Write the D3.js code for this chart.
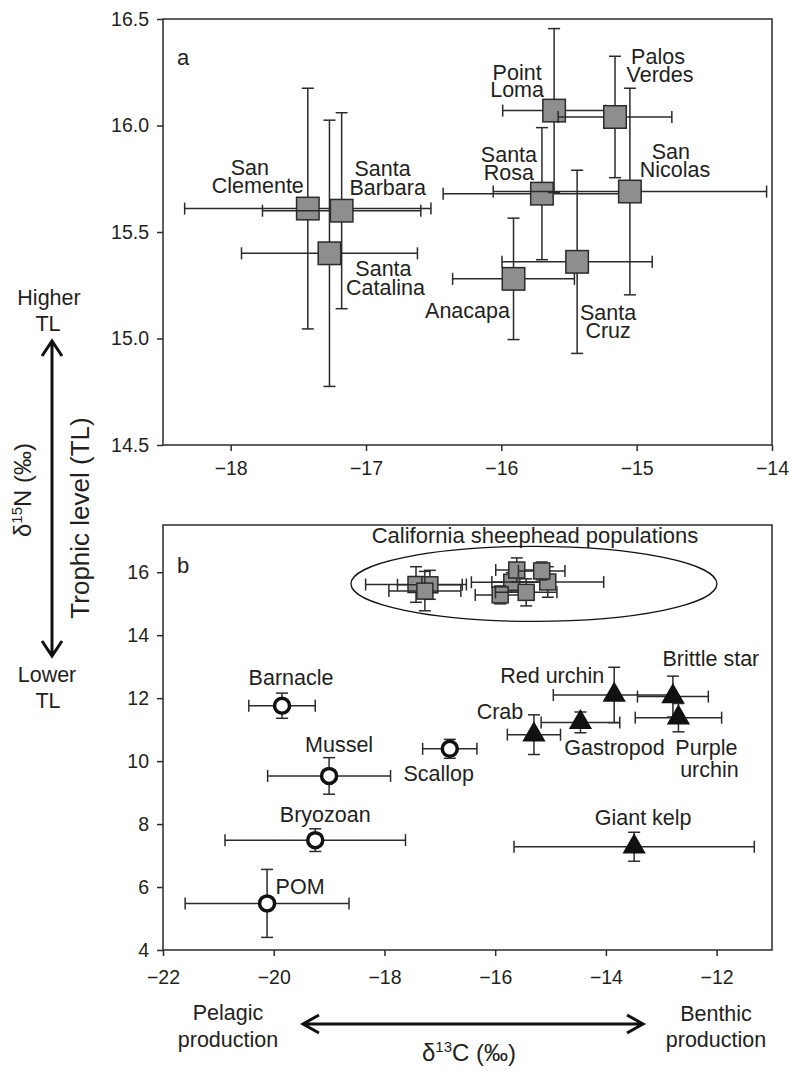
<!DOCTYPE html>
<html>
<head>
<meta charset="utf-8">
<script src="https://cdn.jsdelivr.net/npm/d3@7"></script>
<style>
  body { margin: 0; background: #fff; }
  svg text { font-family: "Liberation Sans", Arial, sans-serif; fill: #231f20; }
</style>
</head>
<body>
<script>
// sheephead populations: mean d13C, d15N and error (panel a, and the cluster in panel b)
const sites = ["San Clemente", "Santa Barbara", "Santa Catalina", "Santa Rosa", "San Nicolas",
               "Point Loma", "Palos Verdes", "Anacapa", "Santa Cruz"];
const siteC    = [-17.43, -17.18, -17.27, -15.70, -15.05, -15.61, -15.16, -15.91, -15.44];
const siteCErr = [0.91, 0.585, 0.65, 0.73, 1.01, 0.38, 0.42, 0.45, 0.555];
const siteN    = [15.61, 15.60, 15.40, 15.68, 15.69, 16.07, 16.04, 15.28, 15.36];
const siteNErr = [0.565, 0.46, 0.625, 0.31, 0.485, 0.385, 0.285, 0.285, 0.43];

// prey / primary producers (panel b)
const taxa     = ["POM", "Bryozoan", "Mussel", "Barnacle", "Scallop",
                  "Crab", "Gastropod", "Red urchin", "Brittle star", "Purple urchin", "Giant kelp"];
const taxaType = ["pelagic", "pelagic", "pelagic", "pelagic", "pelagic",
                  "benthic", "benthic", "benthic", "benthic", "benthic", "benthic"];
const taxaC    = [-20.12, -19.25, -19.0, -19.85, -16.82, -15.30, -14.46, -13.85, -12.79, -12.69, -13.49];
const taxaCErr = [1.48, 1.63, 1.11, 0.6, 0.49, 0.48, 0.71, 1.1, 0.64, 0.78, 2.17];
const taxaN    = [5.48, 7.49, 9.53, 11.76, 10.39, 10.84, 11.23, 12.1, 12.05, 11.38, 7.28];
const taxaNErr = [1.08, 0.36, 0.58, 0.4, 0.3, 0.63, 0.33, 0.88, 0.65, 0.45, 0.46];

// axes
const xTicksA = [-18, -17, -16, -15, -14];
const yTicksA = [14.5, 15.0, 15.5, 16.0, 16.5];
const xTicksB = [-22, -20, -18, -16, -14, -12];
const yTicksB = [4, 6, 8, 10, 12, 14, 16];

// label placement, pixel offsets from the point: [text, dx, dy]
const siteLabels = {
  "San Clemente":   [["San", -58, -34], ["Clemente", -50, -16]],
  "Santa Barbara":  [["Santa", 41, -35], ["Barbara", 46, -16]],
  "Santa Catalina": [["Santa", 54, 23], ["Catalina", 56, 42]],
  "Santa Rosa":     [["Santa", -33, -32], ["Rosa", -33, -14]],
  "San Nicolas":    [["San", 41, -33], ["Nicolas", 45, -15]],
  "Point Loma":     [["Point", -37, -31], ["Loma", -37, -14]],
  "Palos Verdes":   [["Palos", 43, -53], ["Verdes", 45, -35]],
  "Anacapa":        [["Anacapa", -46, 39]],
  "Santa Cruz":     [["Santa", 31, 58], ["Cruz", 31, 76]]
};
const taxaLabels = {
  "POM":           [["POM", 33, -9]],
  "Bryozoan":      [["Bryozoan", 10, -18]],
  "Mussel":        [["Mussel", 10, -24]],
  "Barnacle":      [["Barnacle", 9, -21]],
  "Scallop":       [["Scallop", -11, 32]],
  "Crab":          [["Crab", -34, -16]],
  "Gastropod":     [["Gastropod", 34, 33]],
  "Red urchin":    [["Red urchin", -62, -12]],
  "Brittle star":  [["Brittle star", 38, -31]],
  "Purple urchin": [["Purple", 28, 37], ["urchin", 31, 59]],
  "Giant kelp":    [["Giant kelp", 9, -22]]
};

const width = 790;
const height = 1073;
const ink = "#2b2b2b";
const labelSize = 21.5;

const svg = d3.select("body").append("svg")
  .attr("width", width)
  .attr("height", height);

const xA = d3.scaleLinear().domain([-18.5, -14]).range([163, 772]);
const yA = d3.scaleLinear().domain([14.5, 16.5]).range([445, 19]);
const xB = d3.scaleLinear().domain([-22, -11]).range([163, 772]);
const yB = d3.scaleLinear().domain([4, 17.5]).range([950, 525]);

function drawAxes(x, y, xTicks, yTicks, yFmt, padX) {
  const g = svg.append("g");
  g.append("g")
    .attr("transform", `translate(0,${y.range()[0]})`)
    .call(d3.axisBottom(x).tickValues(xTicks).tickFormat(d3.format("d"))
      .tickSize(6).tickSizeOuter(0).tickPadding(padX));
  g.append("g")
    .attr("transform", `translate(${x.range()[0]},0)`)
    .call(d3.axisLeft(y).tickValues(yTicks).tickFormat(yFmt)
      .tickSize(6).tickSizeOuter(0).tickPadding(8));
  g.selectAll(".domain").remove();
  g.selectAll(".tick line").attr("stroke", ink).attr("stroke-width", 1.5);
  g.selectAll(".tick text").attr("font-size", 19.5).attr("fill", "#231f20")
    .style("font-family", '"Liberation Sans", Arial, sans-serif');
  // frame
  g.append("rect")
    .attr("x", x.range()[0]).attr("y", y.range()[1])
    .attr("width", x.range()[1] - x.range()[0])
    .attr("height", y.range()[0] - y.range()[1])
    .attr("fill", "none").attr("stroke", ink).attr("stroke-width", 1.5);
  return g;
}

function errorBars(g, x, y, cx, cxe, cy, cye) {
  const cap = 6;
  const px = x(cx), py = y(cy);
  const x0 = x(cx - cxe), x1 = x(cx + cxe);
  const y0 = y(cy - cye), y1 = y(cy + cye);
  const segs = [
    [x0, py, x1, py], [x0, py - cap, x0, py + cap], [x1, py - cap, x1, py + cap],
    [px, y0, px, y1], [px - cap, y0, px + cap, y0], [px - cap, y1, px + cap, y1]
  ];
  g.selectAll(null).data(segs).enter().append("line")
    .attr("x1", d => d[0]).attr("y1", d => d[1])
    .attr("x2", d => d[2]).attr("y2", d => d[3])
    .attr("stroke", ink).attr("stroke-width", 1.5);
}

// one text element per label, one tspan per line
function labels(g, px, py, lines) {
  const t = g.append("text")
    .attr("text-anchor", "middle")
    .attr("font-size", labelSize);
  lines.forEach(l => {
    t.append("tspan").attr("x", px + l[1]).attr("y", py + l[2]).text(l[0]);
  });
}

function stacked(x, lines, size) {
  const t = svg.append("text").attr("text-anchor", "middle").attr("font-size", size);
  lines.forEach(l => t.append("tspan").attr("x", x + (l[2] || 0)).attr("y", l[1]).text(l[0]));
}

// ---- panel a
drawAxes(xA, yA, xTicksA, yTicksA, d3.format(".1f"), 10);
const gA = svg.append("g");
sites.forEach((s, i) => {
  errorBars(gA, xA, yA, siteC[i], siteCErr[i], siteN[i], siteNErr[i]);
  const sz = 22.5;
  gA.append("rect")
    .attr("x", xA(siteC[i]) - sz / 2).attr("y", yA(siteN[i]) - sz / 2)
    .attr("width", sz).attr("height", sz)
    .attr("fill", "#8e8e8e").attr("stroke", ink).attr("stroke-width", 1.5);
});
sites.forEach((s, i) => labels(gA, xA(siteC[i]), yA(siteN[i]), siteLabels[s]));
svg.append("text").attr("x", 177).attr("y", 65).attr("font-size", 22).text("a");

// ---- panel b
drawAxes(xB, yB, xTicksB, yTicksB, d3.format("d"), 14);
const gB = svg.append("g");
sites.forEach((s, i) => {
  errorBars(gB, xB, yB, siteC[i], siteCErr[i], siteN[i], siteNErr[i]);
  const sz = 16;
  gB.append("rect")
    .attr("x", xB(siteC[i]) - sz / 2).attr("y", yB(siteN[i]) - sz / 2)
    .attr("width", sz).attr("height", sz)
    .attr("fill", "#8e8e8e").attr("stroke", ink).attr("stroke-width", 1.5);
});
// ring round the sheephead cluster
gB.append("ellipse")
  .attr("cx", xB(-15.3)).attr("cy", yB(15.63))
  .attr("rx", 183).attr("ry", 37.5)
  .attr("fill", "none").attr("stroke", "#111").attr("stroke-width", 1.3);
gB.append("text").attr("x", 535).attr("y", 543).attr("text-anchor", "middle")
  .attr("font-size", 22).text("California sheephead populations");

taxa.forEach((t, i) => {
  errorBars(gB, xB, yB, taxaC[i], taxaCErr[i], taxaN[i], taxaNErr[i]);
  const px = xB(taxaC[i]), py = yB(taxaN[i]);
  if (taxaType[i] === "pelagic") {
    gB.append("circle").attr("cx", px).attr("cy", py).attr("r", 7.5)
      .attr("fill", "#fff").attr("stroke", "#111").attr("stroke-width", 3.5);
  } else {
    gB.append("path")
      .attr("transform", `translate(${px},${py})`)
      .attr("d", d3.symbol(d3.symbolTriangle, 235)())
      .attr("fill", "#111");
  }
  labels(gB, px, py, taxaLabels[t]);
});
svg.append("text").attr("x", 177).attr("y", 573).attr("font-size", 22).text("b");

// ---- axis titles and arrows
const arrowStroke = 3;
const ax = 52;
svg.append("path")
  .attr("d", `M${ax},341V656 M${ax - 10},356L${ax},341L${ax + 10},356 M${ax - 10},641L${ax},656L${ax + 10},641`)
  .attr("fill", "none").attr("stroke", "#111").attr("stroke-width", arrowStroke);
stacked(49, [["Higher", 305], ["TL", 331, -1]], labelSize);
stacked(47, [["Lower", 682], ["TL", 708, 1]], labelSize);

const n15 = svg.append("text")
  .attr("transform", "translate(31,490) rotate(-90)")
  .attr("text-anchor", "middle").attr("font-size", 24);
n15.append("tspan").text("δ");
n15.append("tspan").attr("font-size", 15).attr("dy", -9).text("15");
n15.append("tspan").attr("dy", 9).text("N (‰)");

svg.append("text")
  .attr("transform", "translate(89,518) rotate(-90)")
  .attr("text-anchor", "middle").attr("font-size", 26)
  .text("Trophic level (TL)");

const ay = 1024;
svg.append("path")
  .attr("d", `M303,${ay}H643 M319,${ay - 9}L303,${ay}L319,${ay + 9} M627,${ay - 9}L643,${ay}L627,${ay + 9}`)
  .attr("fill", "none").attr("stroke", "#111").attr("stroke-width", arrowStroke);
stacked(228, [["Pelagic", 1020], ["production", 1047]], labelSize);
stacked(716, [["Benthic", 1021], ["production", 1047]], labelSize);

const c13 = svg.append("text")
  .attr("x", 469).attr("y", 1061)
  .attr("text-anchor", "middle").attr("font-size", 24);
c13.append("tspan").text("δ");
c13.append("tspan").attr("font-size", 15).attr("dy", -9).text("13");
c13.append("tspan").attr("dy", 9).text("C (‰)");
</script>
</body>
</html>
